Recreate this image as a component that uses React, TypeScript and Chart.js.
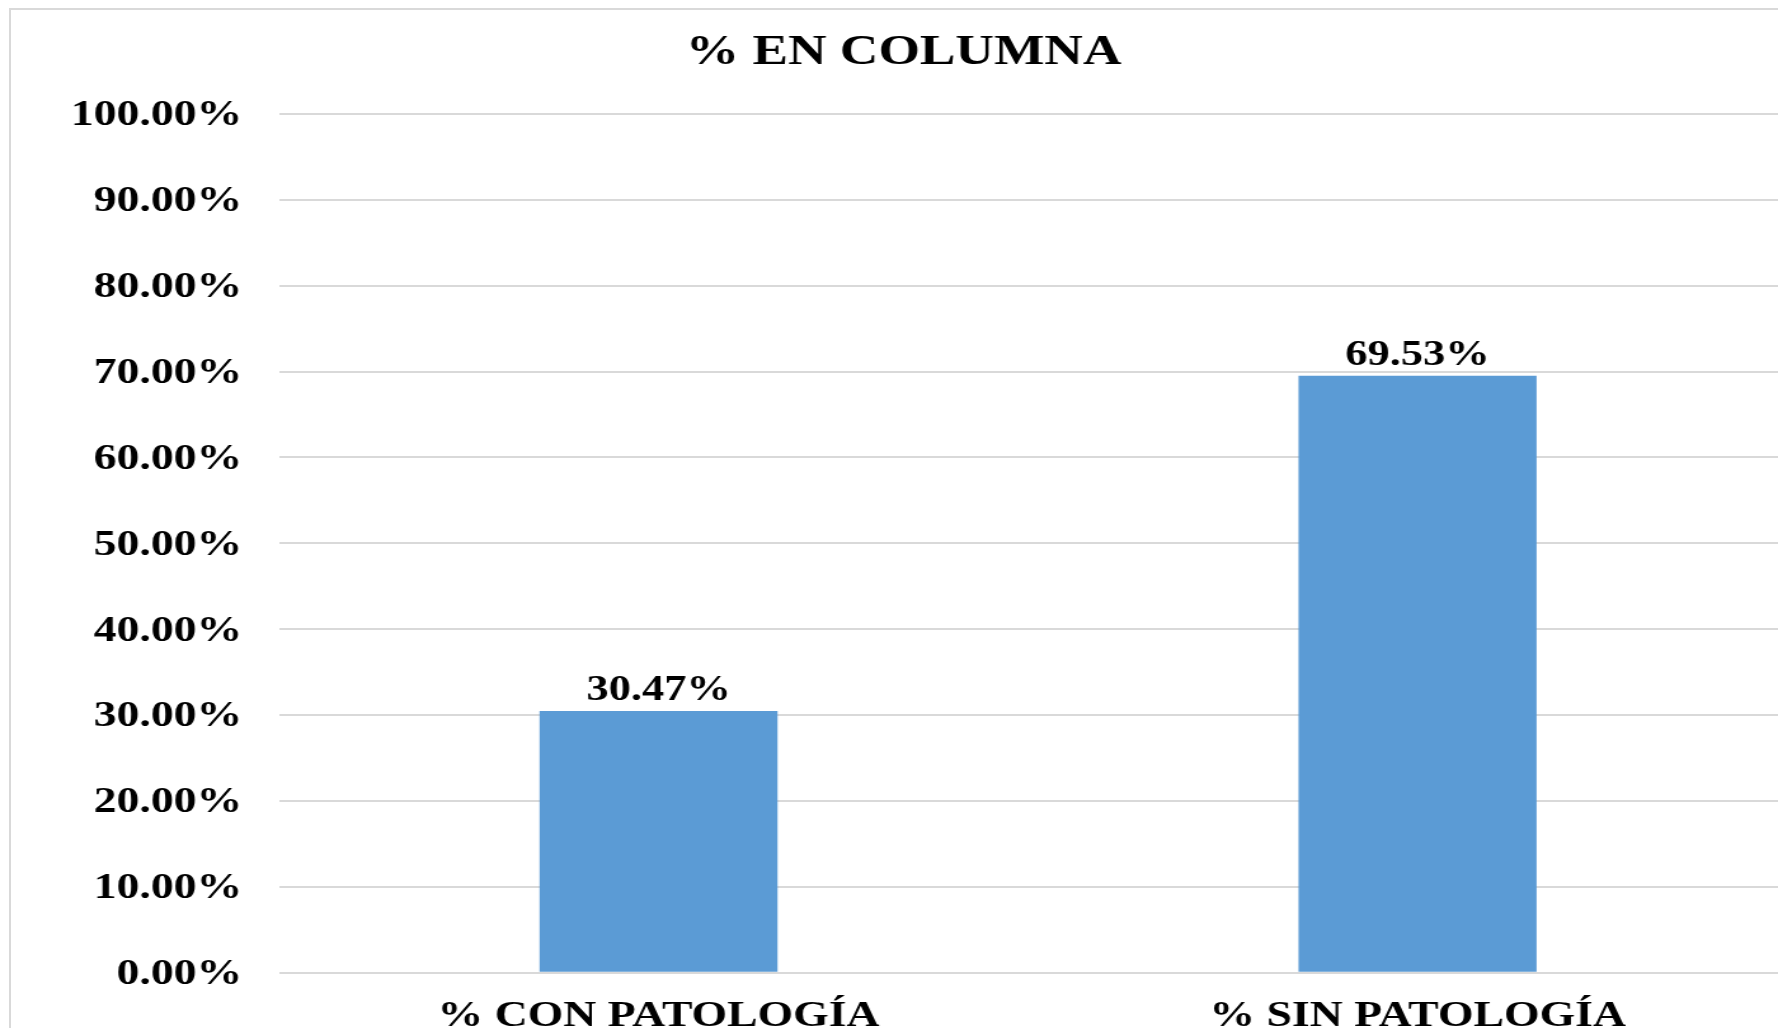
import React, { useEffect, useRef } from 'react';
import { Chart, registerables } from 'chart.js';

Chart.register(...registerables);

// ---- data ----
const categories: string[] = ['% CON PATOLOGÍA', '% SIN PATOLOGÍA'];
const values: number[] = [30.47, 69.53];
const chartTitle = '% EN COLUMNA';
const yMin = 0;
const yMax = 100;
const yStep = 10;

// ---- look ----
const STRETCH = 1.27; // the reference text is horizontally stretched
const FONT = "'Liberation Serif', 'Times New Roman', serif";
const BAR_COLOR = '#5B9BD5';
const GRID_COLOR = '#d9d9d9';

export default function App() {
  const ref = useRef<HTMLCanvasElement>(null);

  useEffect(() => {
    if (!ref.current) return;
    const valueLabels = {
      id: 'valueLabels',
      afterDatasetsDraw(chart: any) {
        const ctx = chart.ctx;
        const meta = chart.getDatasetMeta(0);
        ctx.save();
        ctx.font = `bold 35px ${FONT}`;
        ctx.fillStyle = '#000';
        ctx.textAlign = 'center';
        ctx.textBaseline = 'middle';
        meta.data.forEach((el: any, i: number) => {
          ctx.fillText(values[i].toFixed(2) + '%', el.x, el.y - 20);
        });
        ctx.restore();
      },
    };

    const chart = new Chart(ref.current, {
      type: 'bar',
      data: {
        labels: categories,
        datasets: [
          {
            data: values,
            backgroundColor: BAR_COLOR,
            borderWidth: 0,
            barPercentage: 0.3136,
            categoryPercentage: 1,
          },
        ],
      },
      options: {
        animation: false,
        responsive: false,
        devicePixelRatio: 1,
        layout: { padding: { left: 8, right: 25, top: 0, bottom: 0 } },
        plugins: {
          legend: { display: false },
          tooltip: { enabled: false },
          title: {
            display: true,
            text: chartTitle,
            color: '#000',
            font: { family: FONT, size: 42, weight: 'bold', lineHeight: 1.2 },
            padding: { top: 27.7, bottom: 35.9 },
          },
        },
        scales: {
          x: {
            grid: { display: false },
            border: { display: false },
            ticks: {
              color: '#000',
              font: { family: FONT, size: 36, weight: 'bold' },
              padding: 14.3,
              maxRotation: 0,
              autoSkip: false,
            },
            afterFit: (s: any) => {
              s.height = 127.3;
            },
          },
          y: {
            min: yMin,
            max: yMax,
            ticks: {
              stepSize: yStep,
              callback: (v: any) => Number(v).toFixed(2) + '%',
              color: '#000',
              font: { family: FONT, size: 36, weight: 'bold' },
              padding: 29,
              labelOffset: 2,
            },
            grid: { color: GRID_COLOR, lineWidth: 2, drawTicks: false },
            border: { display: false },
            afterFit: (s: any) => {
              s.width = 211.7;
            },
          },
        },
      },
      plugins: [valueLabels],
    } as any);
    return () => chart.destroy();
  }, []);

  return (
    <div
      style={{
        position: 'fixed',
        left: 0,
        top: 0,
        width: 1778,
        height: 1028,
        overflow: 'hidden',
        background: '#fff',
      }}
    >
      <div
        style={{
          position: 'absolute',
          left: 9,
          top: 8,
          width: 3000,
          height: 3000,
          border: `2px solid ${GRID_COLOR}`,
        }}
      />
      <canvas
        ref={ref}
        width={1440}
        height={1100}
        style={{
          position: 'absolute',
          left: 0,
          top: 0,
          transform: `scaleX(${STRETCH})`,
          transformOrigin: '0 0',
        }}
      />
    </div>
  );
}
